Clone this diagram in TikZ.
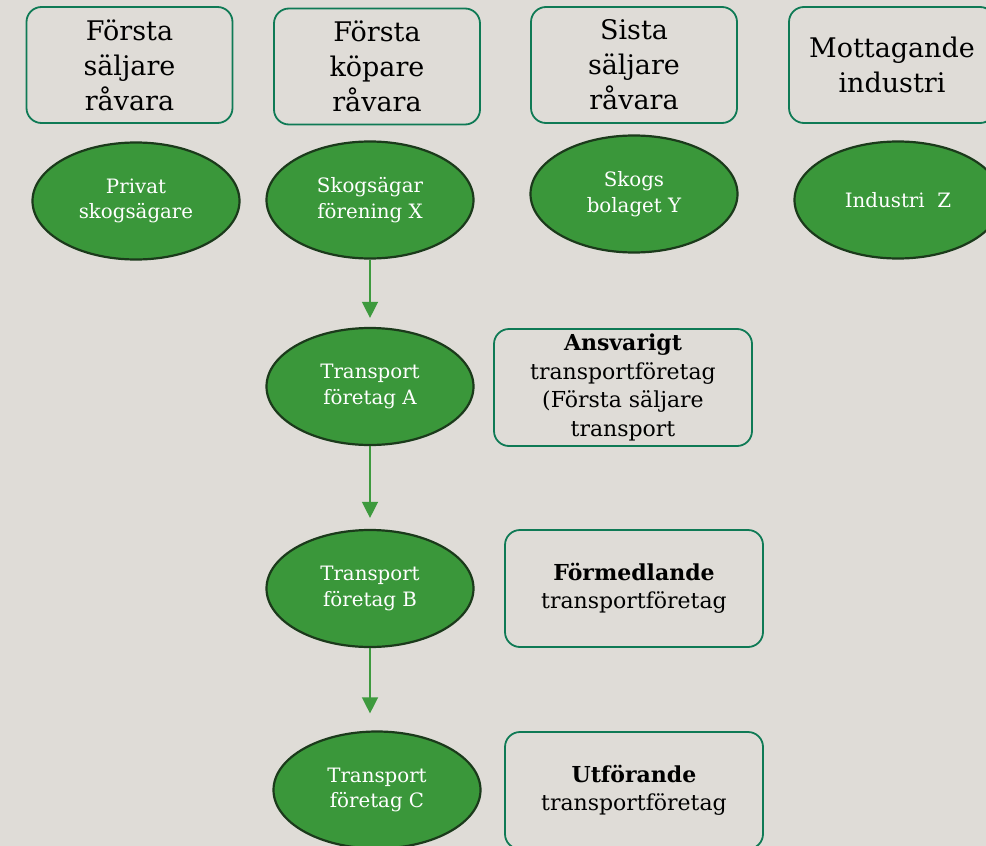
\documentclass[tikz,border=0pt]{standalone}
\usepackage{fontspec}
\setmainfont{DejaVu Serif}
\usetikzlibrary{shapes.geometric,arrows.meta}
\definecolor{bg}{HTML}{DFDCD7}
\definecolor{ellfill}{HTML}{3A973A}
\definecolor{elldraw}{HTML}{1B3A1B}
\definecolor{boxdraw}{HTML}{0F7A55}
\definecolor{arrowc}{HTML}{3E9A3E}
\tikzset{
  rolebox/.style={draw=boxdraw, line width=1.8pt, rounded corners=15pt, fill=none,
    minimum width=206pt, minimum height=116pt, inner sep=0pt, align=center,
    text=black, font=\fontsize{27}{35}\selectfont},
  infobox/.style={draw=boxdraw, line width=1.8pt, rounded corners=15pt,
    minimum width=258pt, minimum height=117pt, inner sep=0pt, align=center,
    text=black, font=\fontsize{22}{28.5}\selectfont},
  actor/.style={ellipse, draw=elldraw, line width=2.2pt, fill=ellfill, text=white,
    minimum width=207pt, minimum height=117pt, inner sep=0pt, align=center,
    font=\fontsize{19.8}{25.5}\selectfont},
  flow/.style={draw=arrowc, line width=1.4pt, -{Triangle[width=16pt,length=16pt]}}
}
\begin{document}
\begin{tikzpicture}[x=1pt,y=-1pt]
\useasboundingbox (0,0) rectangle (986,846);
\fill[bg] (0,0) rectangle (986,846);
\clip (0,0) rectangle (986,846);
\node[rolebox] (r1) at (129.5,65) {Första\\säljare\\råvara};
\node[rolebox] (r2) at (377,66.5) {Första\\köpare\\råvara};
\node[rolebox] (r3) at (634,65) {Sista\\säljare\\råvara};
\node[rolebox] (r4) at (892,65) {Mottagande\\industri};
\node[actor] (e1) at (136,201) {Privat\\skogsägare};
\node[actor] (e2) at (370,200) {Skogsägar\\förening X};
\node[actor] (e3) at (634,194) {Skogs\\bolaget Y};
\node[actor] (e4) at (898,200) {Industri\ \ Z};
\node[actor] (ta) at (370,386.5) {Transport\\företag A};
\node[actor] (tb) at (370,588.5) {Transport\\företag B};
\node[actor] (tc) at (377,790) {Transport\\företag C};
\node[infobox] (ia) at (623,387.5) {\textbf{Ansvarigt}\\transportföretag\\(Första säljare\\transport};
\node[infobox] (ib) at (634,588.5) {\textbf{Förmedlande}\\transportföretag};
\node[infobox] (ic) at (634,790.5) {\textbf{Utförande}\\transportföretag};
\draw[flow, shorten >=9pt] (e2.south) -- (ta.north);
\draw[flow, shorten >=11pt] (ta.south) -- (tb.north);
\draw[flow, shorten >=17pt] (tb.south) -- (tb.south |- tc.north);
\end{tikzpicture}
\end{document}
